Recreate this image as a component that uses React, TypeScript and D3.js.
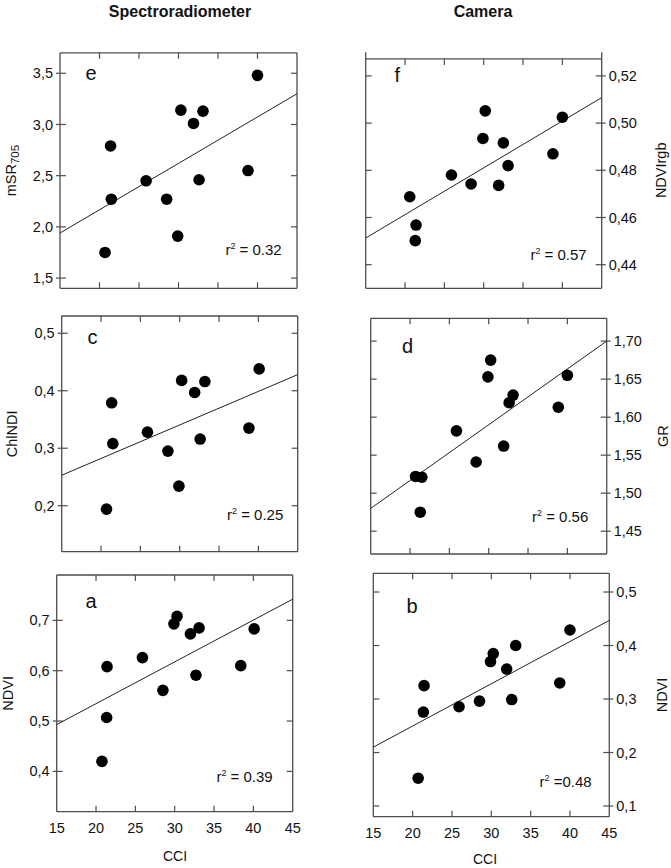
import React from "react";
import * as d3 from "d3";

const W = 671;
const H = 868;
const FONT = "'Liberation Sans', Arial, sans-serif";

// CCI (x) read per panel
const cciE = [20.7, 21.4, 21.5, 25.9, 28.5, 29.9, 30.3, 31.9, 32.6, 33.1, 38.8, 40.0];
const cciC = [20.7, 21.35, 21.5, 25.9, 28.5, 29.9, 30.25, 31.9, 32.6, 33.2, 38.8, 40.1];
const cciA = [20.75, 21.4, 21.35, 25.9, 28.5, 29.9, 30.3, 32.0, 32.7, 33.1, 38.4, 40.1];
const cciF = [20.6, 21.4, 21.3, 25.9, 28.4, 29.9, 30.2, 31.9, 32.5, 33.1, 38.8, 40.0];
const cciD = [20.7, 21.5, 21.3, 25.9, 28.4, 29.9, 30.25, 31.9, 32.6, 33.1, 38.85, 40.0];
const cciB = [20.7, 21.36, 21.45, 25.9, 28.5, 29.9, 30.25, 31.95, 32.6, 33.1, 38.7, 40.0];

// index values
const msr705 = [1.75, 2.79, 2.27, 2.45, 2.27, 1.91, 3.14, 3.01, 2.46, 3.13, 2.55, 3.48];
const chlndi = [0.194, 0.379, 0.308, 0.328, 0.295, 0.234, 0.418, 0.397, 0.316, 0.416, 0.335, 0.438];
const ndviSpec = [0.42, 0.608, 0.507, 0.626, 0.561, 0.693, 0.708, 0.673, 0.591, 0.685, 0.61, 0.683];
const ndviRgb = [0.4688, 0.4568, 0.4502, 0.478, 0.4742, 0.4935, 0.5052, 0.4736, 0.4916, 0.482, 0.487, 0.5025];
const gr = [1.522, 1.521, 1.475, 1.582, 1.541, 1.653, 1.675, 1.562, 1.619, 1.629, 1.613, 1.655];
const ndviCam = [0.152, 0.2756, 0.325, 0.2855, 0.296, 0.37, 0.385, 0.356, 0.299, 0.4, 0.33, 0.429];

// fitted lines: value at CCI 15 and at CCI 45
const fitE = [1.94, 3.3];
const fitC = [0.253, 0.428];
const fitA = [0.493, 0.742];
const fitF = [0.4513, 0.5108];
const fitD = [1.48, 1.7];
const fitB = [0.21, 0.447];

const r2Labels = ["r", " = 0.32", " = 0.25", " = 0.39", " = 0.57", " = 0.56", " =0.48"];

const xTicks = [15, 20, 25, 30, 35, 40, 45];
const ticksE = [1.5, 2.0, 2.5, 3.0, 3.5];
const ticksC = [0.2, 0.3, 0.4, 0.5];
const ticksA = [0.4, 0.5, 0.6, 0.7];
const ticksF = [0.44, 0.46, 0.48, 0.5, 0.52];
const ticksD = [1.45, 1.5, 1.55, 1.6, 1.65, 1.7];
const ticksB = [0.1, 0.2, 0.3, 0.4, 0.5];

const comma = (digits) => (v) => d3.format(`.${digits}f`)(v).replace(".", ",");

const panels = [
  { id: "e", x: cciE, y: msr705, fit: fitE, dom: [1.4, 3.7], ticks: ticksE, fmt: comma(1), side: "left",
    box: [60, 297, 52.8, 288.3], letter: [85.5, 80], r2: [r2Labels[1], 281.7, 255], yLabel: "mSR", sub: "705", labelX: 11, bottom: false },
  { id: "c", x: cciC, y: chlndi, fit: fitC, dom: [0.12, 0.53], ticks: ticksC, fmt: comma(1), side: "left",
    box: [61.7, 297.7, 316, 551.7], letter: [87.5, 344], r2: [r2Labels[2], 283.3, 520], yLabel: "ChlNDI", labelX: 12, bottom: false },
  { id: "a", x: cciA, y: ndviSpec, fit: fitA, dom: [0.32, 0.79], ticks: ticksA, fmt: comma(1), side: "left",
    box: [56.7, 292.7, 575, 811.7], letter: [85.5, 608.3], r2: [r2Labels[3], 272.7, 781.7], yLabel: "NDVI", labelX: 8, bottom: true, cci: [175, 861] },
  { id: "f", x: cciF, y: ndviRgb, fit: fitF, dom: [0.43, 0.53], cut: 0.5272, ticks: ticksF, fmt: comma(2), side: "right",
    box: [365.7, 601.7, 52.3, 288.3], letter: [394.5, 81.7], r2: [r2Labels[4], 586.7, 260], yLabel: "NDVIrgb", labelX: 661, bottom: false },
  { id: "d", x: cciD, y: gr, fit: fitD, dom: [1.42, 1.73], ticks: ticksD, fmt: comma(2), side: "right",
    box: [370.7, 606.7, 318.3, 554], letter: [402, 353.3], r2: [r2Labels[5], 588.3, 521.7], yLabel: "GR", labelX: 663, bottom: false },
  { id: "b", x: cciB, y: ndviCam, fit: fitB, dom: [0.08, 0.535], ticks: ticksB, fmt: comma(1), side: "right",
    box: [373.3, 609.3, 573.3, 816.7], letter: [406.5, 613.3], r2: [r2Labels[6], 591.7, 786.7], yLabel: "NDVI", labelX: 662, bottom: true, cci: [485, 864] },
];

const Panel = ({ p }) => {
  const [x0, x1, y0, y1] = p.box;
  const xs = d3.scaleLinear().domain([15, 45]).range([x0, x1]);
  const ys = d3.scaleLinear().domain(p.dom).range([y1, y0]);
  const top = p.cut ? ys(p.cut) : y0;
  const stroke = "#4d4d4d";
  const line = d3.line()([[xs(15), ys(p.fit[0])], [xs(45), ys(p.fit[1])]]);
  const labX = p.side === "left" ? x0 : x1;
  const dir = p.side === "left" ? 1 : -1;
  const otherX = p.side === "left" ? x1 : x0;
  const midY = (y0 + y1) / 2;

  return (
    <g>
      {/* frame */}
      <line x1={x0} x2={x0} y1={y0} y2={y1} stroke={stroke} strokeWidth={1.3} />
      <line x1={x1} x2={x1} y1={y0} y2={y1} stroke={stroke} strokeWidth={1.3} />
      <line x1={x0} x2={x1} y1={top} y2={top} stroke={stroke} strokeWidth={1.3} />
      <line x1={x0} x2={x1} y1={y1} y2={y1} stroke={stroke} strokeWidth={1.3} />

      {/* x ticks */}
      {xTicks.slice(1, -1).map((t) => (
        <g key={"xt" + t}>
          <line x1={xs(t)} x2={xs(t)} y1={top} y2={top + 6} stroke={stroke} strokeWidth={1.2} />
          <line x1={xs(t)} x2={xs(t)} y1={y1} y2={y1 - 6} stroke={stroke} strokeWidth={1.2} />
        </g>
      ))}
      {p.bottom &&
        xTicks.map((t) => (
          <text key={"xl" + t} x={xs(t)} y={y1 + 21} textAnchor="middle" fontSize={14.5} fontFamily={FONT} fill="#111">
            {t}
          </text>
        ))}
      {p.bottom && (
        <text x={p.cci[0]} y={p.cci[1]} textAnchor="middle" fontSize={14} fontFamily={FONT} fill="#111">
          CCI
        </text>
      )}

      {/* y ticks */}
      {p.ticks.map((t) => (
        <g key={"yt" + t}>
          <line x1={labX - dir * 4} x2={labX + dir * 6} y1={ys(t)} y2={ys(t)} stroke={stroke} strokeWidth={1.2} />
          <line x1={otherX} x2={otherX - dir * 6} y1={ys(t)} y2={ys(t)} stroke={stroke} strokeWidth={1.2} />
          <text
            x={labX - dir * 7}
            y={ys(t)}
            dy="0.35em"
            textAnchor={p.side === "left" ? "end" : "start"}
            fontSize={14.5}
            fontFamily={FONT}
            fill="#111"
          >
            {p.fmt(t)}
          </text>
        </g>
      ))}

      {/* y label */}
      <text
        transform={`translate(${p.labelX},${midY}) rotate(-90)`}
        textAnchor="middle"
        dy="0.35em"
        fontSize={14.5}
        fontFamily={FONT}
        fill="#111"
      >
        {p.yLabel}
        {p.sub && (
          <tspan dy={3} fontSize={11.5}>
            {p.sub}
          </tspan>
        )}
      </text>

      {/* regression line */}
      <path d={line} stroke="#222" strokeWidth={1} fill="none" />

      {/* points */}
      {p.x.map((v, i) => (
        <circle key={i} cx={xs(v)} cy={ys(p.y[i])} r={5.8} fill="#000" />
      ))}

      {/* panel letter */}
      <text x={p.letter[0]} y={p.letter[1]} fontSize={20} fontFamily={FONT} fill="#111">
        {p.id}
      </text>

      {/* r2 */}
      <text x={p.r2[1]} y={p.r2[2]} textAnchor="end" fontSize={15} fontFamily={FONT} fill="#111">
        {r2Labels[0]}
        <tspan dy={-6} fontSize={9}>
          2
        </tspan>
        <tspan dy={6}>{p.r2[0]}</tspan>
      </text>
    </g>
  );
};

export default function App() {
  return (
    <svg
      width={W}
      height={H}
      viewBox={`0 0 ${W} ${H}`}
      style={{ position: "absolute", left: 0, top: 0, background: "#fff" }}
    >
      <rect width={W} height={H} fill="#fff" />
      <text x={180} y={17} textAnchor="middle" fontSize={16} fontWeight="bold" fontFamily={FONT} fill="#111">
        Spectroradiometer
      </text>
      <text x={483} y={17} textAnchor="middle" fontSize={16} fontWeight="bold" fontFamily={FONT} fill="#111">
        Camera
      </text>
      {panels.map((p) => (
        <Panel key={p.id} p={p} />
      ))}
    </svg>
  );
}
